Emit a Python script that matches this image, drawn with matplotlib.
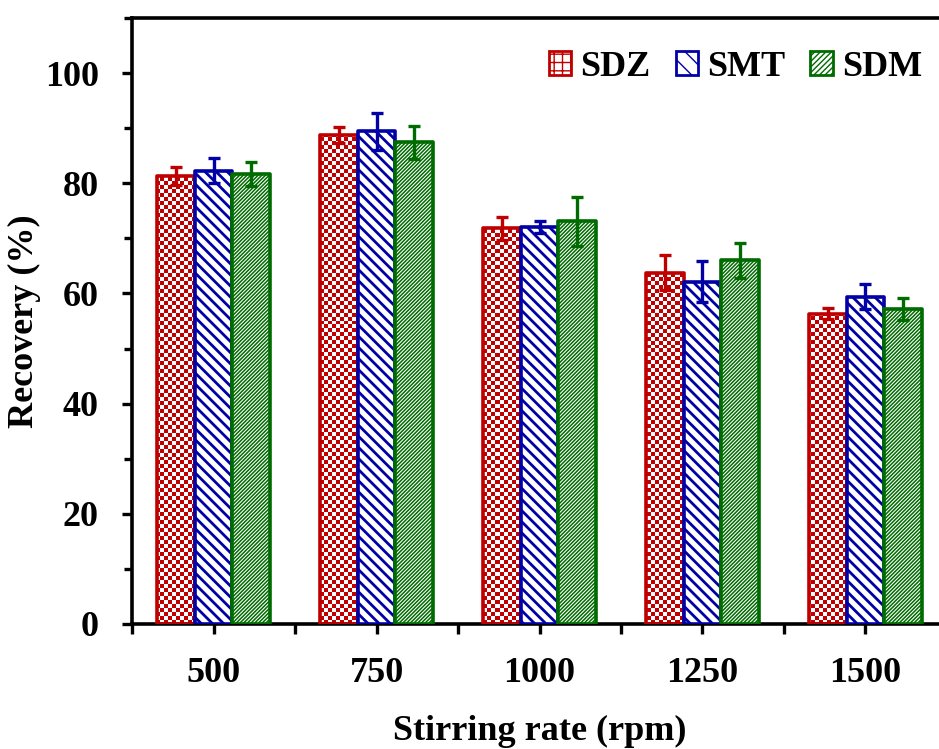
import numpy as np
import matplotlib
matplotlib.use('Agg')
import matplotlib.pyplot as plt
from matplotlib.colors import ListedColormap
from matplotlib.patches import Patch

plt.rcParams['font.family'] = ['Liberation Serif', 'DejaVu Serif']
plt.rcParams['font.weight'] = 'bold'

# recovery (%) vs stirring rate
rates = ['500', '750', '1000', '1250', '1500']
sdz = [81.3, 88.8, 71.8, 63.8, 56.3]
sdz_err = [1.7, 1.5, 2.1, 3.2, 1.0]
smt = [82.3, 89.4, 72.1, 62.1, 59.4]
smt_err = [2.3, 3.4, 1.1, 3.7, 2.3]
sdm = [81.7, 87.4, 73.1, 66.0, 57.2]
sdm_err = [2.2, 3.0, 4.4, 3.2, 2.0]

red = '#C00000'
blue = '#0000A6'
green = '#006B00'

fig = plt.figure(figsize=(9.39, 7.49), dpi=100)
ax = fig.add_axes([0.1406, 0.1669, 0.8679, 0.8091])

x = np.arange(len(rates))
w = 0.23
XMIN, XMAX, YMIN, YMAX = -0.5, 4.5, 0, 110


def hatch_lw(patches, lw):
    for p in patches:
        if hasattr(p, 'set_hatch_linewidth'):
            p.set_hatch_linewidth(lw)


# SDZ: checkerboard fill, clipped into each bar
bars_sdz = ax.bar(x - w, sdz, w, color='white', edgecolor='none', zorder=1)
ny, nx = 152, 204
board = (np.indices((ny, nx)).sum(axis=0) % 2).astype(float)
for b in bars_sdz:
    im = ax.imshow(board, cmap=ListedColormap(['white', red]), extent=(XMIN, XMAX, YMIN, YMAX),
                   aspect='auto', interpolation='nearest', zorder=2)
    im.set_clip_path(b)
ax.bar(x - w, sdz, w, fill=False, edgecolor=red, linewidth=2.6, joinstyle='round', zorder=3)

with plt.rc_context({'hatch.linewidth': 2.0, 'hatch.color': blue}):
    bars_smt = ax.bar(x, smt, w, color='white', edgecolor=blue, hatch='\\\\\\',
                      linewidth=2.6, joinstyle='round', zorder=3)
    hatch_lw(bars_smt, 2.0)
with plt.rc_context({'hatch.linewidth': 1.1, 'hatch.color': green}):
    bars_sdm = ax.bar(x + w, sdm, w, color='white', edgecolor=green, hatch='/////////',
                      linewidth=2.6, joinstyle='round', zorder=3)
    hatch_lw(bars_sdm, 1.1)

for dx, vals, errs, c in [(-w, sdz, sdz_err, red), (0, smt, smt_err, blue), (w, sdm, sdm_err, green)]:
    ax.errorbar(x + dx, vals, yerr=errs, fmt='none', ecolor=c, elinewidth=2.4,
                capsize=4, capthick=2.4, zorder=4)

ax.set_xlim(XMIN, XMAX)
ax.set_ylim(YMIN, YMAX)
ax.set_xticks(x)
ax.set_xticklabels(rates)
ax.set_xticks(np.arange(XMIN, XMAX + 0.01, 1), minor=True)
ax.set_yticks(np.arange(0, 101, 20))
ax.set_yticks(np.arange(10, 111, 20), minor=True)

for s in ax.spines.values():
    s.set_linewidth(2.6)
ax.tick_params(axis='both', which='major', labelsize=26, width=2.4, length=7, direction='out')
ax.tick_params(axis='x', which='major', pad=17)
ax.tick_params(axis='y', which='major', pad=17)
ax.tick_params(axis='x', which='minor', width=2.4, length=7, direction='out')
ax.tick_params(axis='y', which='minor', width=2.4, length=5.5, direction='out')

ax.set_xlabel('Stirring rate (rpm)', fontsize=26, fontweight='bold', labelpad=18)
ax.set_ylabel('Recovery (%)', fontsize=26, fontweight='bold')
ax.yaxis.set_label_coords(-0.112, 0.5)

with plt.rc_context({'hatch.linewidth': 2.0}):
    handles = [
        Patch(facecolor='white', edgecolor=red, hatch='++', linewidth=2, label='SDZ'),
        Patch(facecolor='white', edgecolor=blue, hatch='\\\\', linewidth=2, label='SMT'),
        Patch(facecolor='white', edgecolor=green, hatch='//////', linewidth=2, label='SDM'),
    ]
fig.legend(handles=handles, loc='upper right', bbox_to_anchor=(922 / 939, 1 - 51 / 749),
           ncol=3, frameon=False, handlelength=0.62, handleheight=0.64,
           handletextpad=0.25, columnspacing=0.7, borderpad=0, borderaxespad=0,
           prop={'weight': 'bold', 'size': 26})

fig.savefig('out.png', dpi=100)
